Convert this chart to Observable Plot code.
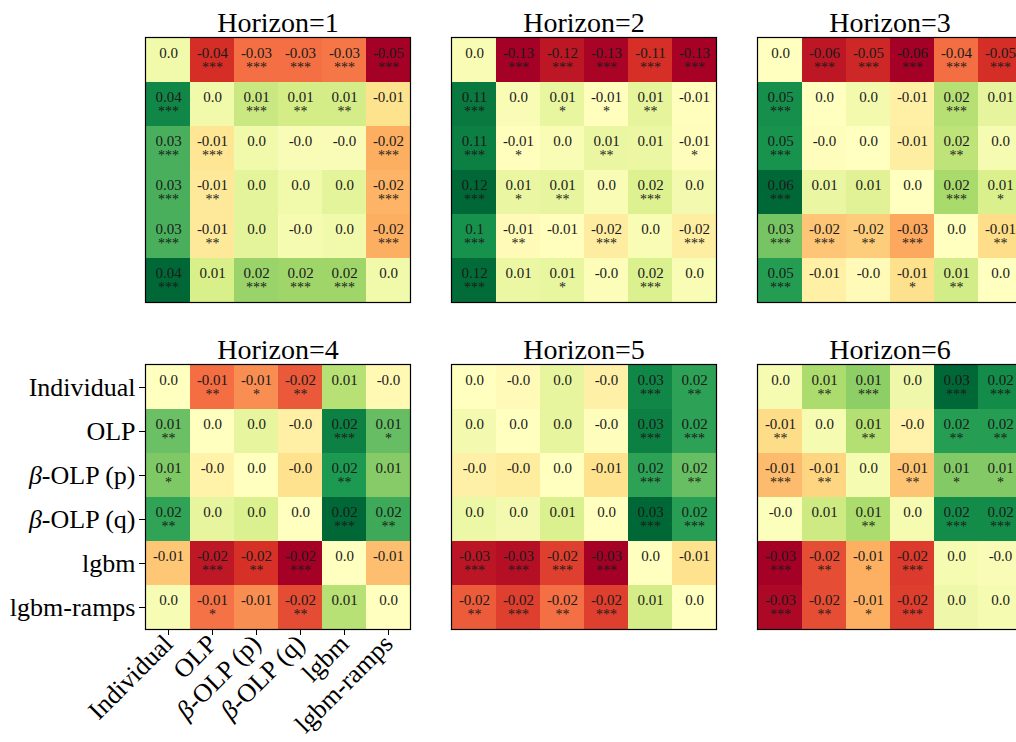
<!DOCTYPE html>
<html>
<head>
<meta charset="utf-8">
<script src="https://cdn.jsdelivr.net/npm/d3@7"></script>
<script src="https://cdn.jsdelivr.net/npm/@observablehq/plot@0.6"></script>
<style>
  html, body { margin: 0; padding: 0; background: white; }
  body { width: 1016px; height: 742px; overflow: hidden; position: relative; }
  .panel { position: absolute; }
</style>
</head>
<body>
<div id="chart"></div>
<script>
const models = ["Individual", "OLP", "β-OLP (p)", "β-OLP (q)", "lgbm", "lgbm-ramps"];
const horizons = [1, 2, 3, 4, 5, 6];

const h1 = [
  [0, -0.041, -0.031, -0.031, -0.030, -0.050],
  [0.037, 0, 0.0086, 0.0068, 0.0067, -0.012],
  [0.028, -0.011, 0, -0.002, -0.002, -0.022],
  [0.028, -0.010, 0.003, 0, 0.003, -0.021],
  [0.028, -0.010, 0.003, -0.001, 0, -0.022],
  [0.043, 0.006, 0.017, 0.016, 0.016, 0]
];
const s1 = [
  ["", "***", "***", "***", "***", "***"],
  ["***", "", "***", "**", "**", ""],
  ["***", "***", "", "", "", "***"],
  ["***", "**", "", "", "", "***"],
  ["***", "**", "", "", "", "***"],
  ["***", "", "***", "***", "***", ""]
];
const h2 = [
  [0, -0.132, -0.120, -0.130, -0.107, -0.131],
  [0.113, 0, 0.010, -0.006, 0.012, -0.006],
  [0.110, -0.006, 0, 0.009, 0.008, -0.007],
  [0.122, 0.009, 0.011, 0, 0.018, 0.003],
  [0.100, -0.009, -0.006, -0.020, 0, -0.019],
  [0.120, 0.008, 0.010, -0.002, 0.019, 0]
];
const s2 = [
  ["", "***", "***", "***", "***", "***"],
  ["***", "", "*", "*", "**", ""],
  ["***", "*", "", "**", "", "*"],
  ["***", "*", "**", "", "***", ""],
  ["***", "**", "", "***", "", "***"],
  ["***", "", "*", "", "***", ""]
];
const h3 = [
  [0, -0.056, -0.052, -0.062, -0.037, -0.050],
  [0.052, 0, 0.004, -0.006, 0.021, 0.008],
  [0.051, -0.001, 0, -0.007, 0.019, 0.003],
  [0.062, 0.007, 0.010, 0, 0.024, 0.012],
  [0.034, -0.019, -0.017, -0.026, 0, -0.013],
  [0.048, -0.006, -0.002, -0.012, 0.014, 0]
];
const s3 = [
  ["", "***", "***", "***", "***", "***"],
  ["***", "", "", "", "***", ""],
  ["***", "", "", "", "**", ""],
  ["***", "", "", "", "***", "*"],
  ["***", "***", "**", "***", "", "**"],
  ["***", "", "", "*", "**", ""]
];
const h4 = [
  [0, -0.0144, -0.012, -0.016, 0.008, -0.001],
  [0.014, 0, 0.003, -0.0024, 0.0216, 0.0144],
  [0.0125, -0.002, 0, -0.0045, 0.019, 0.012],
  [0.0178, 0.003, 0.0045, 0, 0.024, 0.017],
  [-0.0072, -0.0216, -0.0192, -0.024, 0, -0.008],
  [0.001, -0.014, -0.012, -0.017, 0.008, 0]
];
const s4 = [
  ["", "**", "*", "**", "", ""],
  ["**", "", "", "", "***", "*"],
  ["*", "", "", "", "**", ""],
  ["**", "", "", "", "***", "**"],
  ["", "***", "**", "***", "", ""],
  ["", "*", "", "**", "", ""]
];
const h5 = [
  [0, -0.001, 0.004, -0.003, 0.028, 0.024],
  [0.002, 0, 0.004, -0.0005, 0.029, 0.024],
  [-0.003, -0.004, 0, -0.006, 0.024, 0.019],
  [0.003, 0.002, 0.006, 0, 0.032, 0.0245],
  [-0.029, -0.030, -0.024, -0.032, 0, -0.006],
  [-0.021, -0.024, -0.019, -0.024, 0.007, 0]
];
const s5 = [
  ["", "", "", "", "***", "**"],
  ["", "", "", "", "***", "***"],
  ["", "", "", "", "***", "**"],
  ["", "", "", "", "***", "***"],
  ["***", "***", "***", "***", "", ""],
  ["**", "***", "**", "***", "", ""]
];
const h6 = [
  [0, 0.010, 0.013, 0.001, 0.029, 0.0245],
  [-0.008, 0, 0.009, -0.004, 0.022, 0.022],
  [-0.012, -0.009, 0, -0.011, 0.014, 0.014],
  [-0.001, 0.006, 0.010, 0, 0.0245, 0.0245],
  [-0.032, -0.023, -0.0135, -0.0249, 0, -0.0005],
  [-0.031, -0.023, -0.0135, -0.0245, 0.001, 0]
];
const s6 = [
  ["", "**", "***", "", "***", "***"],
  ["**", "", "**", "", "**", "**"],
  ["***", "**", "", "**", "*", "*"],
  ["", "", "**", "", "***", "***"],
  ["***", "**", "*", "***", "", ""],
  ["***", "**", "*", "***", "", ""]
];

const values = [h1, h2, h3, h4, h5, h6];
const stars = [s1, s2, s3, s4, s5, s6];

// Python-like str(round(v, 2))
function fmt(v) {
  const r = Math.round(v * 100) / 100;
  if (r === 0) return (v < 0 ? "-0.0" : "0.0");
  let s = String(r);
  if (s.indexOf(".") < 0) s += ".0";
  return s;
}

const FONT = "Liberation Serif";
const SIZE = 265;
const colX = [145, 451, 757];
const rowY = [37, 364];
const palette = d3.schemeRdYlGn[11];

const container = document.getElementById("chart");

horizons.forEach((h, k) => {
  const vals = values[k], st = stars[k];
  const data = [];
  vals.forEach((row, i) => row.forEach((v, j) => data.push({row: models[i], col: models[j], v, s: st[i][j]})));
  const ci = k % 3, ri = Math.floor(k / 3);
  const withAxes = (k === 3);
  const mL = withAxes ? 145 : 6;
  const mR = 6;
  const mT = 40;
  const mB = withAxes ? 112 : 6;
  const [lo, hi] = d3.extent(vals.flat());
  const stops = palette.map((_, i) => lo + (hi - lo) * i / (palette.length - 1));
  const marks = [
    Plot.cell(data, {x: "col", y: "row", fill: "v", inset: 0}),
    Plot.text(data, {x: "col", y: "row", text: d => fmt(d.v), dy: -7, fontSize: 15, fill: "#1a1a1a"}),
    Plot.text(data, {x: "col", y: "row", text: "s", dy: 7.5, fontSize: 14, fill: "#1a1a1a"}),
    Plot.frame({stroke: "black", strokeWidth: 1.2}),
    Plot.text(["Horizon=" + h], {frameAnchor: "top", lineAnchor: "bottom", dy: -6, fontSize: 28, fill: "black"})
  ];
  if (withAxes) {
    marks.push(Plot.axisX({tickRotate: -45, fontSize: 26, tickSize: 6, tickPadding: 4, label: null, stroke: "black"}));
    marks.push(Plot.axisY({fontSize: 26, tickSize: 6, tickPadding: 4, label: null, stroke: "black"}));
  }
  const svg = Plot.plot({
    width: mL + SIZE + mR,
    height: mT + SIZE + mB,
    marginLeft: mL, marginRight: mR, marginTop: mT, marginBottom: mB,
    style: {fontFamily: FONT, color: "black", background: "transparent", overflow: "visible"},
    x: {domain: models, padding: 0, axis: withAxes ? undefined : null},
    y: {domain: models, padding: 0, axis: withAxes ? undefined : null},
    color: {type: "linear", domain: stops, range: palette},
    marks
  });
  // italic beta in tick labels
  d3.select(svg).selectAll("g[aria-label$='tick label'] text").each(function() {
    const t = this.textContent;
    if (t.startsWith("β")) {
      const sel = d3.select(this);
      sel.text(null);
      sel.append("tspan").attr("font-style", "italic").text("β");
      sel.append("tspan").text(t.slice(1));
    }
  });
  svg.classList.add("panel");
  svg.style.position = "absolute";
  svg.style.left = (colX[ci] - mL) + "px";
  svg.style.top = (rowY[ri] - mT) + "px";
  svg.style.maxWidth = "none";
  container.appendChild(svg);
});
</script>
</body>
</html>
